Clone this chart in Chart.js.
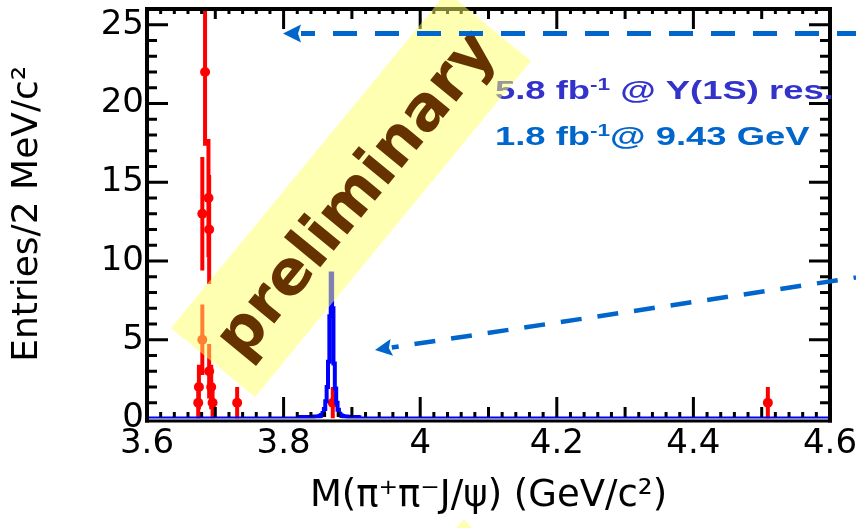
<!DOCTYPE html>
<html>
<head>
<meta charset="utf-8">
<script src="https://cdn.jsdelivr.net/npm/chart.js@4.4.1/dist/chart.umd.min.js"></script>
<style>
  html, body { margin: 0; padding: 0; background: #ffffff; }
  #wrap { width: 856px; height: 528px; position: relative; }
</style>
</head>
<body>
<div id="wrap"><canvas id="c" width="856" height="528"></canvas></div>
<script>
// Candidates: M(pi+ pi- J/psi) in GeV/c^2 and entries per 2 MeV/c^2 bin
const dataMass   = [3.675, 3.676, 3.681, 3.681, 3.685, 3.690, 3.691, 3.691, 3.694, 3.696, 3.732, 3.872, 4.509];
const dataCounts = [1,     2,     5,     13,    22,    14,    12,    3,     2,     1,     1,     1,     1];

// X(3872) signal shape: 2 MeV/c^2 bin centres and contents
const mcBinCentres = [
  3.824, 3.826, 3.828, 3.830, 3.832, 3.834, 3.836, 3.838, 3.840, 3.842,
  3.844, 3.846, 3.848, 3.850, 3.852, 3.854, 3.856, 3.858, 3.860, 3.862,
  3.864, 3.866, 3.868, 3.870, 3.872, 3.874, 3.876, 3.878, 3.880, 3.882,
  3.884, 3.886, 3.888, 3.890, 3.892, 3.894, 3.896, 3.898, 3.900, 3.902,
  3.904, 3.906, 3.908, 3.910
];
const mcBinContents = [
  0.08, 0.10, 0.10, 0.10, 0.10, 0.10, 0.10, 0.10, 0.10, 0.10,
  0.11, 0.12, 0.12, 0.13, 0.15, 0.18, 0.22, 0.35, 0.60, 1.10,
  2.00, 3.60, 6.50, 9.20, 7.00, 3.50, 1.90, 1.00, 0.55, 0.30,
  0.20, 0.16, 0.14, 0.12, 0.12, 0.11, 0.10, 0.10, 0.10, 0.10,
  0.10, 0.10, 0.10, 0.08
];
const mcBinWidth = 0.002;

// Axis ranges and labelled ticks
const xRange = [3.6, 4.6];
const yRange = [0, 26];
const xTickValues = [3.6, 3.8, 4.0, 4.2, 4.4, 4.6];
const yTickValues = [0, 5, 10, 15, 20, 25];

// Annotation text (runs of normal / superscript text)
const lumiLine1 = [{t: '5.8 fb'}, {t: '-1', sup: true}, {t: ' @ \u03A5(1S) res.'}];
const lumiLine2 = [{t: '1.8 fb'}, {t: '-1', sup: true}, {t: '@ 9.43 GeV'}];
const stampText = 'preliminary';

// ---- datasets built from the arrays above ----
const markerPoints = dataMass.map((m, i) => ({x: m, y: dataCounts[i]}));
const errorSegments = [];
dataMass.forEach((m, i) => {
  const n = dataCounts[i], e = Math.sqrt(n);
  errorSegments.push({x: m, y: n - e}, {x: m, y: n + e}, {x: m, y: null});
});
const histPoints = [{x: xRange[0], y: 0}];
mcBinCentres.forEach((c, i) => histPoints.push({x: c - mcBinWidth / 2, y: mcBinContents[i]}));
histPoints.push({x: mcBinCentres[mcBinCentres.length - 1] + mcBinWidth / 2, y: 0});
histPoints.push({x: xRange[1], y: 0});

// Bottom frame edge sits under the histogram baseline
const frameBase = {
  id: 'frameBase',
  beforeDatasetsDraw(chart) {
    const {ctx, chartArea: a} = chart;
    ctx.save();
    ctx.strokeStyle = '#000';
    ctx.lineWidth = 3;
    ctx.beginPath();
    ctx.moveTo(a.left - 2, a.bottom + 2.5);
    ctx.lineTo(a.right + 2, a.bottom + 2.5);
    ctx.stroke();
    ctx.restore();
  }
};

// Frame and tick marks on all four sides (major / medium / minor)
const frameTicks = {
  id: 'frameTicks',
  afterDatasetsDraw(chart) {
    const {ctx, chartArea: a, scales: {x, y}} = chart;
    ctx.save();
    ctx.strokeStyle = '#000';
    ctx.lineWidth = 3;
    ctx.beginPath();
    for (let i = 0; i <= 50; i++) {
      const px = x.getPixelForValue(xRange[0] + i * 0.02);
      const len = i % 10 === 0 ? 20 : (i % 5 === 0 ? 10 : 5);
      ctx.moveTo(px, a.bottom - 1.5); ctx.lineTo(px, a.bottom - 1.5 - len);
      ctx.moveTo(px, a.top); ctx.lineTo(px, a.top + len);
    }
    for (let v = yRange[0] + 1; v <= yRange[1]; v++) {
      const py = y.getPixelForValue(v);
      const len = v % 5 === 0 ? 21 : 10;
      ctx.moveTo(a.left, py); ctx.lineTo(a.left + len, py);
      ctx.moveTo(a.right, py); ctx.lineTo(a.right - len, py);
    }
    ctx.stroke();
    ctx.lineWidth = 4;
    ctx.beginPath();
    ctx.moveTo(a.left, a.bottom + 4);
    ctx.lineTo(a.left, a.top);
    ctx.lineTo(a.right, a.top);
    ctx.lineTo(a.right, a.bottom + 4);
    ctx.stroke();
    ctx.restore();
  }
};

function drawRich(ctx, runs, x, y, size, color, sx) {
  ctx.save();
  ctx.translate(x, y);
  ctx.scale(sx, 1);
  ctx.fillStyle = color;
  ctx.textBaseline = 'alphabetic';
  ctx.textAlign = 'left';
  let cx = 0;
  for (const r of runs) {
    const fs = r.sup ? size * 0.62 : size;
    ctx.font = 'bold ' + fs + 'px "Liberation Sans", Arial, sans-serif';
    ctx.fillText(r.t, cx, r.sup ? -size * 0.36 : 0);
    cx += ctx.measureText(r.t).width;
  }
  ctx.restore();
}

function dashedArrow(ctx, from, tip, headLen, headHalf, width, dash, offset) {
  const dx = tip.x - from.x, dy = tip.y - from.y;
  const L = Math.hypot(dx, dy), ux = dx / L, uy = dy / L;
  const bx = tip.x - ux * headLen, by = tip.y - uy * headLen;
  ctx.save();
  ctx.strokeStyle = '#0066cc';
  ctx.fillStyle = '#0066cc';
  ctx.lineWidth = width;
  ctx.setLineDash(dash);
  ctx.lineDashOffset = offset;
  ctx.beginPath();
  ctx.moveTo(from.x, from.y);
  ctx.lineTo(bx, by);
  ctx.stroke();
  ctx.setLineDash([]);
  ctx.beginPath();
  ctx.moveTo(tip.x, tip.y);
  ctx.lineTo(bx - uy * headHalf, by + ux * headHalf);
  ctx.lineTo(bx + ux * 3, by + uy * 3);
  ctx.lineTo(bx + uy * headHalf, by - ux * headHalf);
  ctx.closePath();
  ctx.fill();
  ctx.restore();
}

// Luminosity labels, translucent "preliminary" banner and arrows
const overlay = {
  id: 'overlay',
  afterDraw(chart) {
    const ctx = chart.ctx;
    drawRich(ctx, lumiLine1, 495, 99, 26, '#3333cc', 1.40);
    drawRich(ctx, lumiLine2, 495, 145, 26, '#0066cc', 1.40);

    ctx.save();
    ctx.fillStyle = 'rgba(255,255,102,0.5)';
    ctx.beginPath();
    ctx.moveTo(171, 328); ctx.lineTo(255, 397); ctx.lineTo(531, 61); ctx.lineTo(447, -8);
    ctx.closePath();
    ctx.fill();
    ctx.beginPath();
    ctx.moveTo(464, 519); ctx.lineTo(456, 528); ctx.lineTo(472, 528);
    ctx.closePath();
    ctx.fill();

    const ang = Math.atan2(-0.773, 0.635);
    ctx.translate(358, 196);
    ctx.rotate(ang);
    ctx.fillStyle = '#663300';
    ctx.font = 'bold 62px "DejaVu Sans", sans-serif';
    ctx.textAlign = 'center';
    ctx.textBaseline = 'middle';
    ctx.fillText(stampText, 0, 0);
    ctx.restore();

    dashedArrow(ctx, {x: 856, y: 33.5}, {x: 283, y: 33.5}, 18, 9, 5, [24, 18], 5);
    dashedArrow(ctx, {x: 856, y: 277.5}, {x: 375, y: 350}, 17, 8.5, 4.5, [21, 16], 18.5);
  }
};

const tickFont = {family: '"DejaVu Sans", sans-serif', size: 34};

new Chart(document.getElementById('c'), {
  type: 'scatter',
  data: {
    datasets: [
      {
        label: 'X(3872) MC',
        data: histPoints,
        showLine: true,
        stepped: true,
        borderColor: '#0000ff',
        borderWidth: 4,
        pointRadius: 0,
        order: 0
      },
      {
        label: 'data',
        data: markerPoints,
        pointRadius: 5,
        pointStyle: 'circle',
        backgroundColor: '#ff0000',
        borderColor: '#ff0000',
        borderWidth: 0,
        order: 1
      },
      {
        label: 'data errors',
        data: errorSegments,
        showLine: true,
        spanGaps: false,
        borderColor: '#ff0000',
        borderWidth: 4,
        pointRadius: 0,
        order: 2
      }
    ]
  },
  options: {
    responsive: false,
    animation: false,
    devicePixelRatio: 1,
    layout: {padding: {top: 9, right: 26, left: 0, bottom: 0}},
    plugins: {legend: {display: false}, tooltip: {enabled: false}},
    scales: {
      x: {
        type: 'linear',
        min: xRange[0],
        max: xRange[1],
        grid: {display: false, drawTicks: false},
        border: {display: false},
        afterBuildTicks: s => { s.ticks = xTickValues.map(v => ({value: v})); },
        afterFit: s => { s.height = 109.5; s.paddingLeft = 0; s.paddingRight = 0; },
        ticks: {
          color: '#000',
          font: tickFont,
          padding: 5,
          maxRotation: 0,
          autoSkip: false,
          callback: v => String(Number(v.toFixed(1)))
        },
        title: {
          display: true,
          text: 'M(\u03C0\u207A\u03C0\u207BJ/\u03C8) (GeV/c\u00B2)',
          color: '#000',
          font: {family: '"DejaVu Sans", sans-serif', size: 37},
          padding: {top: 0, bottom: 9}
        }
      },
      y: {
        type: 'linear',
        min: yRange[0],
        max: yRange[1],
        grid: {display: false, drawTicks: false},
        border: {display: false},
        afterBuildTicks: s => { s.ticks = yTickValues.map(v => ({value: v})); },
        afterFit: s => { s.width = 147; s.paddingTop = 0; s.paddingBottom = 0; },
        ticks: {
          color: '#000',
          font: tickFont,
          padding: 3,
          autoSkip: false,
          callback: v => String(v)
        },
        title: {
          display: true,
          text: 'Entries/2 MeV/c\u00B2',
          color: '#000',
          font: {family: '"DejaVu Sans", sans-serif', size: 36},
          padding: {top: 6, bottom: 0}
        }
      }
    }
  },
  plugins: [frameBase, frameTicks, overlay]
});
</script>
</body>
</html>
